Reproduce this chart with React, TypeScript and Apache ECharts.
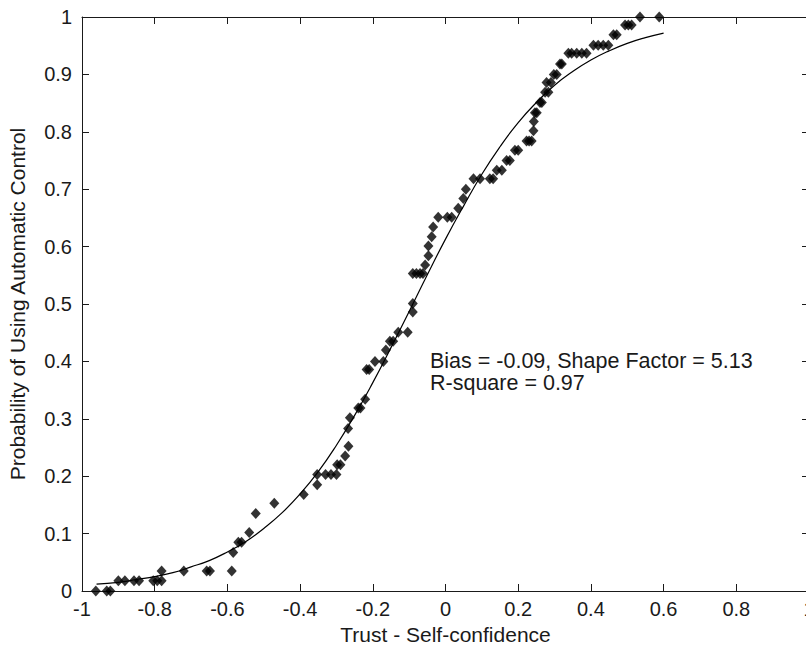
import React, { useEffect, useRef } from "react";
import * as echarts from "echarts";

const xTicks = [-1, -0.8, -0.6, -0.4, -0.2, 0, 0.2, 0.4, 0.6, 0.8, 1];
const yTicks = [0, 0.1, 0.2, 0.3, 0.4, 0.5, 0.6, 0.7, 0.8, 0.9, 1];

// observed points
const obsX = [
  -0.962, -0.932, -0.922,
  -0.9, -0.882, -0.857, -0.843, -0.804, -0.793, -0.781,
  -0.781, -0.72, -0.657, -0.648, -0.588,
  -0.584, -0.57, -0.561, -0.54, -0.522, -0.471, -0.39, -0.353,
  -0.353, -0.33, -0.315, -0.3,
  -0.298, -0.289, -0.276, -0.267, -0.268, -0.263, -0.24, -0.234, -0.221,
  -0.217, -0.21, -0.194, -0.171, -0.164, -0.153, -0.144, -0.13, -0.104,
  -0.09, -0.09, -0.09, -0.08, -0.07, -0.062,
  -0.056, -0.047, -0.047, -0.038, -0.034,
  -0.02, 0.005, 0.017, 0.035, 0.049, 0.056,
  0.077, 0.095, 0.122, 0.131, 0.141, 0.155, 0.168, 0.177, 0.191, 0.2,
  0.223, 0.23, 0.237, 0.242, 0.243, 0.246, 0.251, 0.26, 0.265, 0.274, 0.283,
  0.278, 0.29, 0.298, 0.306, 0.315, 0.32,
  0.338, 0.347, 0.361, 0.375, 0.388,
  0.407, 0.42, 0.434, 0.448, 0.462, 0.471,
  0.494, 0.503, 0.512, 0.535, 0.588,
];
const obsY = [
  0, 0, 0,
  0.018, 0.018, 0.018, 0.018, 0.018, 0.018, 0.018,
  0.035, 0.035, 0.035, 0.035, 0.035,
  0.067, 0.085, 0.085, 0.102, 0.135, 0.153, 0.168, 0.185,
  0.203, 0.203, 0.203, 0.203,
  0.22, 0.22, 0.235, 0.252, 0.283, 0.302, 0.319, 0.319, 0.334,
  0.386, 0.386, 0.4, 0.4, 0.42, 0.435, 0.435, 0.451, 0.451,
  0.486, 0.501, 0.553, 0.553, 0.553, 0.553,
  0.568, 0.584, 0.601, 0.617, 0.634,
  0.651, 0.651, 0.651, 0.667, 0.684, 0.7,
  0.718, 0.718, 0.718, 0.718, 0.733, 0.733, 0.75, 0.75, 0.768, 0.768,
  0.784, 0.784, 0.784, 0.802, 0.818, 0.833, 0.833, 0.851, 0.851, 0.869, 0.869,
  0.886, 0.886, 0.9, 0.9, 0.918, 0.918,
  0.937, 0.937, 0.937, 0.937, 0.937,
  0.951, 0.951, 0.951, 0.951, 0.969, 0.969,
  0.986, 0.986, 0.986, 1, 1,
];

// fitted curve
const fitX = [
  -0.96, -0.9, -0.85, -0.8, -0.75, -0.7, -0.65, -0.6, -0.55, -0.5, -0.45,
  -0.4, -0.35, -0.3, -0.25, -0.2, -0.15, -0.1, -0.05, 0, 0.05, 0.1, 0.15,
  0.2, 0.25, 0.3, 0.35, 0.4, 0.45, 0.5, 0.55, 0.6,
];
const fitY = [
  0.012, 0.015, 0.02, 0.025, 0.032, 0.042, 0.053, 0.068, 0.086, 0.109, 0.136,
  0.169, 0.208, 0.254, 0.306, 0.363, 0.424, 0.487, 0.551, 0.613, 0.671, 0.726, 0.774,
  0.816, 0.851, 0.881, 0.905, 0.925, 0.941, 0.954, 0.964, 0.972,
];

const annotation = ["Bias = -0.09, Shape Factor = 5.13", "R-square = 0.97"];
const xName = "Trust - Self-confidence";
const yName = "Probability of Using Automatic Control";

const FONT = "'Liberation Sans', Arial, sans-serif";
const INK = "#1a1a1a";

export default function App() {
  const ref = useRef<HTMLDivElement>(null);
  useEffect(() => {
    if (!ref.current) return;
    const chart = echarts.init(ref.current, undefined, { renderer: "svg" });
    const fmt = (v: number) => String(Math.round(v * 10) / 10);
    const tickStyle = { inside: true, length: 7, lineStyle: { color: INK, width: 1 } };
    const lineStyle = { color: INK, width: 1 };
    chart.setOption({
      animation: false,
      backgroundColor: "#fff",
      textStyle: { fontFamily: FONT },
      grid: {
        left: 82,
        top: 17,
        right: -3,
        bottom: 59,
        containLabel: false,
        outerBoundsMode: "none",
      },
      xAxis: [
        {
          type: "value",
          min: xTicks[0],
          max: xTicks[xTicks.length - 1],
          interval: 0.2,
          position: "bottom",
          axisLine: { show: true, onZero: false, lineStyle },
          axisTick: tickStyle,
          splitLine: { show: false },
          axisLabel: {
            color: INK,
            fontSize: 20,
            fontFamily: FONT,
            margin: 8,
            showMinLabel: true,
            showMaxLabel: true,
            formatter: fmt,
          },
          name: xName,
          nameLocation: "middle",
          nameGap: 33,
          nameTextStyle: { color: INK, fontSize: 21, fontFamily: FONT },
        },
        {
          type: "value",
          min: xTicks[0],
          max: xTicks[xTicks.length - 1],
          interval: 0.2,
          position: "top",
          axisLine: { show: true, onZero: false, lineStyle },
          axisTick: tickStyle,
          splitLine: { show: false },
          axisLabel: { show: false },
        },
      ],
      yAxis: [
        {
          type: "value",
          min: yTicks[0],
          max: yTicks[yTicks.length - 1],
          interval: 0.1,
          position: "left",
          axisLine: { show: true, onZero: false, lineStyle },
          axisTick: tickStyle,
          splitLine: { show: false },
          axisLabel: {
            color: INK,
            fontSize: 20,
            fontFamily: FONT,
            margin: 10,
            formatter: fmt,
          },
          name: yName,
          nameLocation: "middle",
          nameGap: 54,
          nameTextStyle: { color: INK, fontSize: 21, fontFamily: FONT },
        },
        {
          type: "value",
          min: yTicks[0],
          max: yTicks[yTicks.length - 1],
          interval: 0.1,
          position: "right",
          axisLine: { show: true, onZero: false, lineStyle },
          axisTick: tickStyle,
          splitLine: { show: false },
          axisLabel: { show: false },
        },
      ],
      series: [
        {
          type: "line",
          data: fitX.map((x, i) => [x, fitY[i]]),
          smooth: true,
          showSymbol: false,
          symbol: "none",
          lineStyle: { color: "#000", width: 1.2 },
          silent: true,
          z: 2,
        },
        {
          type: "scatter",
          data: obsX.map((x, i) => [x, obsY[i]]),
          symbol: "diamond",
          symbolSize: [10, 11],
          itemStyle: { color: "#000" },
          z: 3,
        },
      ],
      graphic: [
        {
          type: "text",
          left: 430,
          top: 350,
          style: { text: annotation[0], fill: INK, font: `21.5px ${FONT}` },
        },
        {
          type: "text",
          left: 430,
          top: 372,
          style: { text: annotation[1], fill: INK, font: `21.5px ${FONT}` },
        },
      ],
    });
    return () => chart.dispose();
  }, []);
  return (
    <div
      ref={ref}
      style={{ position: "fixed", left: 0, top: 0, width: 806, height: 650, background: "#fff" }}
    />
  );
}
